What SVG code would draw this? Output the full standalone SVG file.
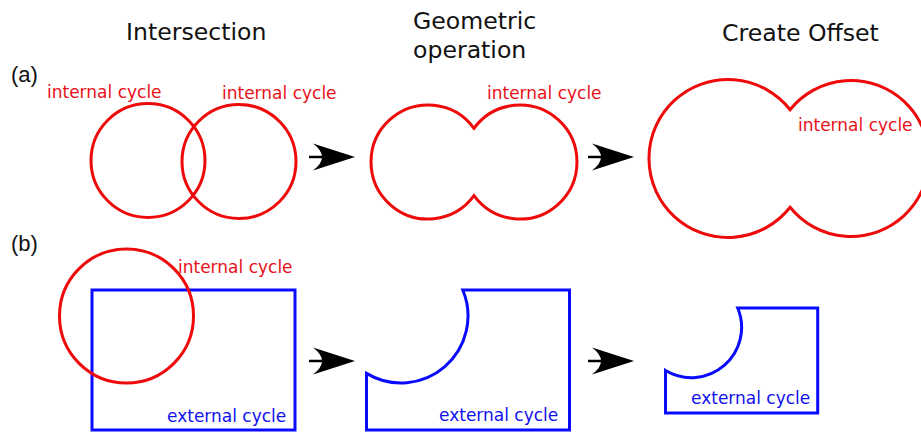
<svg xmlns="http://www.w3.org/2000/svg" width="921" height="432" viewBox="0 0 921 432">
<style>
.title{font-family:"DejaVu Sans",Verdana,sans-serif;font-size:23.6px;fill:#111}
.tag{font-family:"Liberation Sans",Arial,sans-serif;font-size:22px;fill:#111}
.rl{font-family:"DejaVu Sans",Verdana,sans-serif;font-size:17px;fill:#e8101a}
.bl{font-family:"DejaVu Sans",Verdana,sans-serif;font-size:17px;fill:#1010ee}
.red{fill:none;stroke:#ee0a0a;stroke-width:3}
.blue{fill:none;stroke:#0a0aff;stroke-width:3}
.shaft{stroke:#000;stroke-width:2.5;fill:none}
.head{fill:#000}
</style>
<defs>
<g id="arrow">
<line class="shaft" x1="0" y1="0" x2="16" y2="0"/>
<path class="head" d="M46,0 L4,-13.5 Q22,0 4,13.5 Z"/>
</g>
</defs>
<rect width="921" height="432" fill="#fff"/>
<g id="titles">
<text class="title" x="126" y="40">Intersection</text>
<text class="title" x="413" y="29">Geometric</text>
<text class="title" x="413" y="58">operation</text>
<text class="title" x="722" y="41">Create Offset</text>
<text class="tag" x="11" y="82">(a)</text>
<text class="tag" x="11" y="251">(b)</text>
</g>
<g id="a-intersection">
<circle class="red" cx="148" cy="160.5" r="57"/>
<circle class="red" cx="239" cy="161.5" r="57"/>
<text class="rl" x="47" y="98">internal cycle</text>
<text class="rl" x="222" y="99">internal cycle</text>
</g>
<g id="a-geometric">
<path class="red" d="M474,128.3 A57,57 0 1 0 474,195.7 A57,57 0 1 0 474,128.3 Z"/>
<text class="rl" x="487" y="99">internal cycle</text>
</g>
<g id="a-offset">
<path class="red" d="M790.1,109.7 A79,79 0 1 0 790.1,207.3 A78,78 0 1 0 790.1,109.7 Z"/>
<text class="rl" x="798" y="131">internal cycle</text>
</g>
<g id="b-intersection">
<rect class="blue" x="92" y="290" width="203" height="140"/>
<circle class="red" cx="126.5" cy="316" r="67"/>
<text class="rl" x="178" y="273">internal cycle</text>
<text class="bl" x="167" y="422">external cycle</text>
</g>
<g id="b-geometric">
<path class="blue" d="M462.75,290 H569.5 V430 H366.5 V373.4 A67,67 0 0 0 462.75,290 Z"/>
<text class="bl" x="439" y="421">external cycle</text>
</g>
<g id="b-offset">
<path class="blue" d="M737.7,308 H817.7 V413 H665.5 V370.5 A50.25,50.25 0 0 0 737.7,308 Z"/>
<text class="bl" x="691" y="404">external cycle</text>
</g>
<g id="connectors">
<use href="#arrow" x="309" y="157"/>
<use href="#arrow" x="588" y="157"/>
<use href="#arrow" x="309" y="361"/>
<use href="#arrow" x="588" y="361"/>
</g>
</svg>
